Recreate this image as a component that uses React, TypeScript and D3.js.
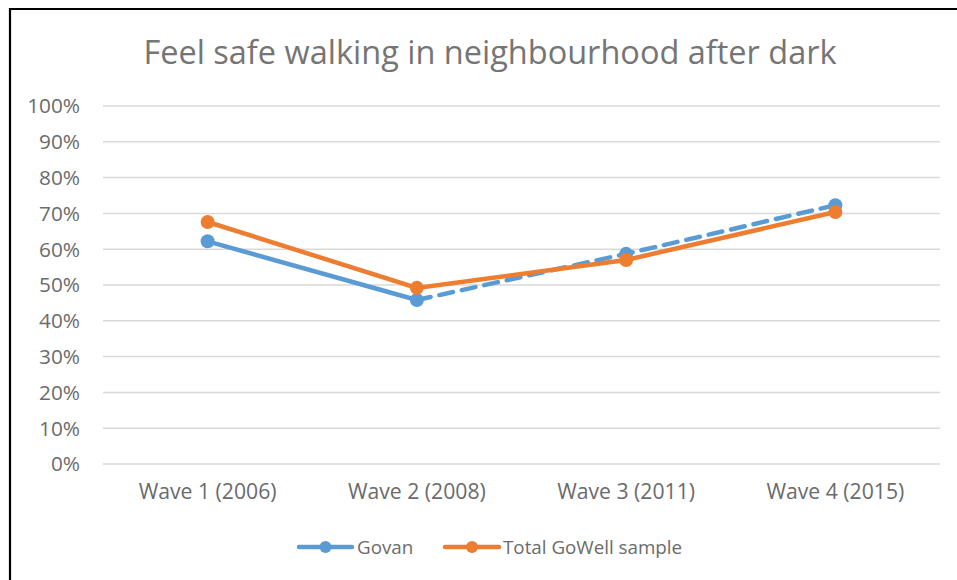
import React from "react";
import * as d3 from "d3";

const categories = ["Wave 1 (2006)", "Wave 2 (2008)", "Wave 3 (2011)", "Wave 4 (2015)"];
const govan = [0.622, 0.458, 0.587, 0.723];
const totalGoWell = [0.676, 0.492, 0.570, 0.704];
const yTicks = [0, 0.1, 0.2, 0.3, 0.4, 0.5, 0.6, 0.7, 0.8, 0.9, 1.0];
const seriesNames = ["Govan", "Total GoWell sample"];

const BLUE = "#5B9BD5";
const ORANGE = "#ED7D31";
const FONT = "'Open Sans', Lato, sans-serif";

export default function App() {
  const W = 957, H = 580;
  const left = 103, right = 940, top = 106, bottom = 464;
  const x = d3.scalePoint<string>().domain(categories).range([left, right]).padding(0.5);
  const y = d3.scaleLinear().domain([0, 1]).range([bottom, top]);
  const line = d3.line<[number, number]>().x(d => d[0]).y(d => d[1]);

  const gPts: [number, number][] = categories.map((c, i) => [x(c)!, y(govan[i])]);
  const tPts: [number, number][] = categories.map((c, i) => [x(c)!, y(totalGoWell[i])]);

  return (
    <svg width={W} height={H} style={{ position: "absolute", left: 0, top: 0, background: "#fff" }} fontFamily={FONT}>
      <rect x={0} y={0} width={W} height={H} fill="#fff" />
      <path d={`M10,${H + 5} L10,9 L${W + 5},9`} fill="none" stroke="#000" strokeWidth={2.2} />
      <text x={490} y={64} textAnchor="middle" fontSize={32.5} fill="#757575">
        Feel safe walking in neighbourhood after dark
      </text>
      {yTicks.map(t => (
        <g key={t}>
          <line x1={left} x2={right} y1={y(t)} y2={y(t)} stroke="#D9D9D9" strokeWidth={1.5} />
          <text x={80} y={y(t) + 7.3} textAnchor="end" fontSize={20.8} fill="#6b6b6b">
            {d3.format(".0%")(t)}
          </text>
        </g>
      ))}
      {categories.map(c => (
        <text key={c} x={x(c)} y={499} textAnchor="middle" fontSize={21.2} fill="#6b6b6b">{c}</text>
      ))}
      <path d={line(gPts.slice(0, 2))!} fill="none" stroke={BLUE} strokeWidth={4.5} strokeLinecap="round" />
      <path d={line(gPts.slice(1))!} fill="none" stroke={BLUE} strokeWidth={4.5} strokeDasharray="14 9" strokeLinecap="round" />
      {gPts.map((p, i) => <circle key={i} cx={p[0]} cy={p[1]} r={7} fill={BLUE} />)}
      <path d={line(tPts)!} fill="none" stroke={ORANGE} strokeWidth={4.5} strokeLinecap="round" />
      {tPts.map((p, i) => <circle key={i} cx={p[0]} cy={p[1]} r={7} fill={ORANGE} />)}
      <g>
        <line x1={299} x2={352} y1={547} y2={547} stroke={BLUE} strokeWidth={4.5} strokeLinecap="round" />
        <circle cx={325.5} cy={547} r={6} fill={BLUE} />
        <text x={357} y={553.5} fontSize={18.8} fill="#6b6b6b">{seriesNames[0]}</text>
        <line x1={445} x2={499} y1={547} y2={547} stroke={ORANGE} strokeWidth={4.5} strokeLinecap="round" />
        <circle cx={472} cy={547} r={6} fill={ORANGE} />
        <text x={503} y={553.5} fontSize={18.8} fill="#6b6b6b">{seriesNames[1]}</text>
      </g>
    </svg>
  );
}
